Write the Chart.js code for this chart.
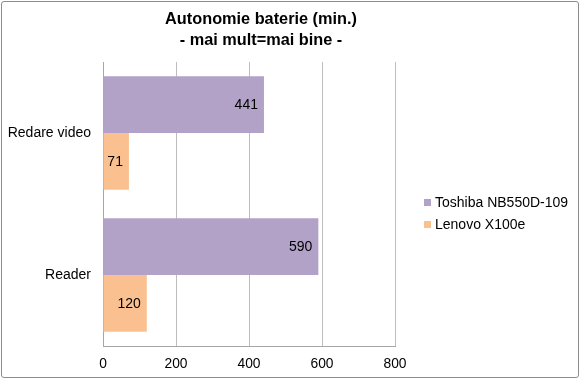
<!DOCTYPE html>
<html>
<head>
<meta charset="utf-8">
<script src="https://cdn.jsdelivr.net/npm/chart.js@4"></script>
<style>
  html, body { margin: 0; padding: 0; background: #fff; }
  #wrap { position: relative; width: 580px; height: 378px; }
  #wrap::after { content: ""; position: absolute; left: 1px; top: 1px; right: 1px; bottom: 0px;
    border: 1px solid #8c8c8c; border-radius: 3px; pointer-events: none; }
  canvas { display: block; }
</style>
</head>
<body>
<div id="wrap"><canvas id="c" width="580" height="378"></canvas></div>
<script>
const categories = ["Redare video", "Reader"];
const seriesNames = ["Toshiba NB550D-109", "Lenovo X100e"];
const toshibaValues = [441, 590];
const lenovoValues = [71, 120];
const titleLines = ["Autonomie baterie (min.)", "- mai mult=mai bine -"];
const xTicks = [0, 200, 400, 600, 800];

const colors = ["#B2A2C7", "#FAC090"];
const FONT = "'Liberation Sans', Arial, sans-serif";

const customPlugin = {
  id: 'custom',
  afterDatasetsDraw(chart) {
    const ctx = chart.ctx;
    ctx.save();
    ctx.font = "14px " + FONT;
    ctx.fillStyle = "#000";
    ctx.textAlign = "right";
    ctx.textBaseline = "middle";
    chart.data.datasets.forEach((ds, di) => {
      const meta = chart.getDatasetMeta(di);
      meta.data.forEach((bar, i) => {
        ctx.fillText(String(ds.data[i]), bar.x - 6, bar.y + 1);
      });
    });
    ctx.restore();
  },
  afterDraw(chart) {
    const ctx = chart.ctx;
    ctx.save();
    // title
    ctx.font = "bold 16.3px " + FONT;
    ctx.fillStyle = "#000";
    ctx.textAlign = "center";
    ctx.textBaseline = "middle";
    ctx.fillText(titleLines[0], 261, 20);
    ctx.fillText(titleLines[1], 261, 41);
    // legend
    ctx.font = "14px " + FONT;
    ctx.textAlign = "left";
    chart.data.datasets.forEach((ds, di) => {
      const y = 203 + di * 22;
      ctx.fillStyle = ds.backgroundColor;
      ctx.fillRect(424, y - 4, 7, 7);
      ctx.fillStyle = "#000";
      ctx.fillText(ds.label, 435, y);
    });
    ctx.restore();
  }
};

new Chart(document.getElementById('c'), {
  type: 'bar',
  data: {
    labels: categories,
    datasets: [
      { label: seriesNames[0], data: toshibaValues, backgroundColor: colors[0] },
      { label: seriesNames[1], data: lenovoValues, backgroundColor: colors[1] }
    ]
  },
  options: {
    indexAxis: 'y',
    responsive: false,
    animation: false,
    layout: { padding: { left: 0, top: 62, right: 185, bottom: 0 } },
    datasets: { bar: { categoryPercentage: 0.8, barPercentage: 1.0 } },
    plugins: { legend: { display: false }, title: { display: false }, tooltip: { enabled: false } },
    scales: {
      x: {
        min: 0, max: 800,
        afterBuildTicks(scale) { scale.ticks = xTicks.map(v => ({ value: v })); },
        afterFit(scale) { scale.height = 32; },
        grid: { color: "#BDBDBD", drawTicks: false, lineWidth: 1 },
        border: { display: true, color: "#A6A6A6" },
        ticks: { font: { family: FONT, size: 13.8 }, color: "#000", padding: 10 }
      },
      y: {
        afterFit(scale) { scale.width = 103; },
        grid: { display: false, drawTicks: false },
        border: { display: true, color: "#A6A6A6" },
        ticks: { font: { family: FONT, size: 14 }, color: "#000", padding: 12 }
      }
    }
  },
  plugins: [customPlugin]
});
</script>
</body>
</html>
